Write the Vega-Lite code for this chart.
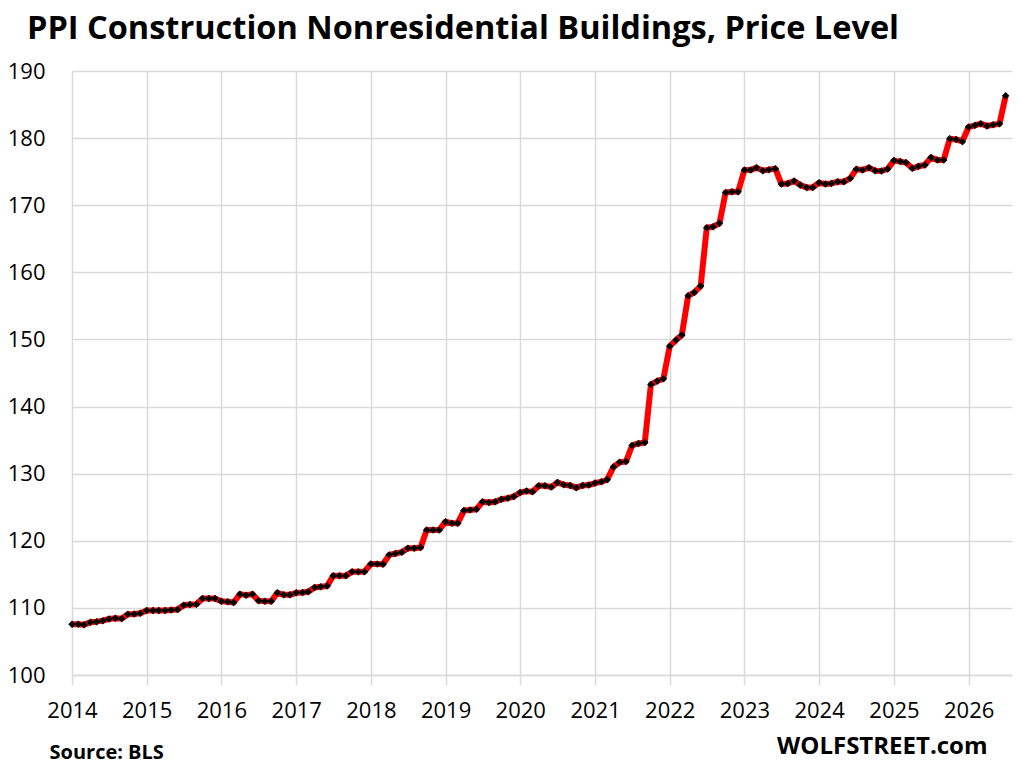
{
  "$schema": "https://vega.github.io/schema/vega-lite/v6.json",
  "width": 940,
  "height": 604,
  "autosize": {"type": "none"},
  "padding": {"left": 72, "top": 71, "right": 14, "bottom": 95},
  "background": "white",
  "title": {
    "text": "PPI Construction Nonresidential Buildings, Price Level",
    "anchor": "start",
    "frame": "group",
    "dx": -45,
    "offset": 15,
    "font": "Open Sans",
    "fontSize": 32.5,
    "fontWeight": "bold",
    "color": "#000000"
  },
  "data": {
    "values": [
      {"date": "2014-01-01", "ppi": 107.55}, {"date": "2014-02-01", "ppi": 107.55}, {"date": "2014-03-01", "ppi": 107.5},
      {"date": "2014-04-01", "ppi": 107.85}, {"date": "2014-05-01", "ppi": 107.95}, {"date": "2014-06-01", "ppi": 108.1},
      {"date": "2014-07-01", "ppi": 108.35}, {"date": "2014-08-01", "ppi": 108.45}, {"date": "2014-09-01", "ppi": 108.4},
      {"date": "2014-10-01", "ppi": 109.05}, {"date": "2014-11-01", "ppi": 109.1}, {"date": "2014-12-01", "ppi": 109.2},
      {"date": "2015-01-01", "ppi": 109.6}, {"date": "2015-02-01", "ppi": 109.6}, {"date": "2015-03-01", "ppi": 109.6},
      {"date": "2015-04-01", "ppi": 109.6}, {"date": "2015-05-01", "ppi": 109.7}, {"date": "2015-06-01", "ppi": 109.75},
      {"date": "2015-07-01", "ppi": 110.4}, {"date": "2015-08-01", "ppi": 110.5}, {"date": "2015-09-01", "ppi": 110.55},
      {"date": "2015-10-01", "ppi": 111.4}, {"date": "2015-11-01", "ppi": 111.4}, {"date": "2015-12-01", "ppi": 111.4},
      {"date": "2016-01-01", "ppi": 111.0}, {"date": "2016-02-01", "ppi": 110.9}, {"date": "2016-03-01", "ppi": 110.8},
      {"date": "2016-04-01", "ppi": 112.05}, {"date": "2016-05-01", "ppi": 111.9}, {"date": "2016-06-01", "ppi": 112.05},
      {"date": "2016-07-01", "ppi": 111.05}, {"date": "2016-08-01", "ppi": 111.0}, {"date": "2016-09-01", "ppi": 111.0},
      {"date": "2016-10-01", "ppi": 112.25}, {"date": "2016-11-01", "ppi": 111.95}, {"date": "2016-12-01", "ppi": 111.95},
      {"date": "2017-01-01", "ppi": 112.25}, {"date": "2017-02-01", "ppi": 112.3}, {"date": "2017-03-01", "ppi": 112.4},
      {"date": "2017-04-01", "ppi": 113.05}, {"date": "2017-05-01", "ppi": 113.15}, {"date": "2017-06-01", "ppi": 113.25},
      {"date": "2017-07-01", "ppi": 114.8}, {"date": "2017-08-01", "ppi": 114.8}, {"date": "2017-09-01", "ppi": 114.8},
      {"date": "2017-10-01", "ppi": 115.4}, {"date": "2017-11-01", "ppi": 115.4}, {"date": "2017-12-01", "ppi": 115.4},
      {"date": "2018-01-01", "ppi": 116.55}, {"date": "2018-02-01", "ppi": 116.55}, {"date": "2018-03-01", "ppi": 116.5},
      {"date": "2018-04-01", "ppi": 117.9}, {"date": "2018-05-01", "ppi": 118.1}, {"date": "2018-06-01", "ppi": 118.3},
      {"date": "2018-07-01", "ppi": 118.9}, {"date": "2018-08-01", "ppi": 118.9}, {"date": "2018-09-01", "ppi": 119.0},
      {"date": "2018-10-01", "ppi": 121.6}, {"date": "2018-11-01", "ppi": 121.6}, {"date": "2018-12-01", "ppi": 121.6},
      {"date": "2019-01-01", "ppi": 122.85}, {"date": "2019-02-01", "ppi": 122.6}, {"date": "2019-03-01", "ppi": 122.6},
      {"date": "2019-04-01", "ppi": 124.5}, {"date": "2019-05-01", "ppi": 124.6}, {"date": "2019-06-01", "ppi": 124.7},
      {"date": "2019-07-01", "ppi": 125.8}, {"date": "2019-08-01", "ppi": 125.7}, {"date": "2019-09-01", "ppi": 125.8},
      {"date": "2019-10-01", "ppi": 126.2}, {"date": "2019-11-01", "ppi": 126.35}, {"date": "2019-12-01", "ppi": 126.6},
      {"date": "2020-01-01", "ppi": 127.2}, {"date": "2020-02-01", "ppi": 127.4}, {"date": "2020-03-01", "ppi": 127.3},
      {"date": "2020-04-01", "ppi": 128.2}, {"date": "2020-05-01", "ppi": 128.2}, {"date": "2020-06-01", "ppi": 128.0},
      {"date": "2020-07-01", "ppi": 128.7}, {"date": "2020-08-01", "ppi": 128.35}, {"date": "2020-09-01", "ppi": 128.25},
      {"date": "2020-10-01", "ppi": 127.9}, {"date": "2020-11-01", "ppi": 128.25}, {"date": "2020-12-01", "ppi": 128.3},
      {"date": "2021-01-01", "ppi": 128.6}, {"date": "2021-02-01", "ppi": 128.8}, {"date": "2021-03-01", "ppi": 129.1},
      {"date": "2021-04-01", "ppi": 131.0}, {"date": "2021-05-01", "ppi": 131.7}, {"date": "2021-06-01", "ppi": 131.8},
      {"date": "2021-07-01", "ppi": 134.2}, {"date": "2021-08-01", "ppi": 134.5}, {"date": "2021-09-01", "ppi": 134.65},
      {"date": "2021-10-01", "ppi": 143.3}, {"date": "2021-11-01", "ppi": 143.8}, {"date": "2021-12-01", "ppi": 144.15},
      {"date": "2022-01-01", "ppi": 149.0}, {"date": "2022-02-01", "ppi": 149.9}, {"date": "2022-03-01", "ppi": 150.65},
      {"date": "2022-04-01", "ppi": 156.5}, {"date": "2022-05-01", "ppi": 157.0}, {"date": "2022-06-01", "ppi": 157.95},
      {"date": "2022-07-01", "ppi": 166.65}, {"date": "2022-08-01", "ppi": 166.8}, {"date": "2022-09-01", "ppi": 167.3},
      {"date": "2022-10-01", "ppi": 171.9}, {"date": "2022-11-01", "ppi": 172.0}, {"date": "2022-12-01", "ppi": 172.0},
      {"date": "2023-01-01", "ppi": 175.25}, {"date": "2023-02-01", "ppi": 175.25}, {"date": "2023-03-01", "ppi": 175.6},
      {"date": "2023-04-01", "ppi": 175.15}, {"date": "2023-05-01", "ppi": 175.3}, {"date": "2023-06-01", "ppi": 175.45},
      {"date": "2023-07-01", "ppi": 173.15}, {"date": "2023-08-01", "ppi": 173.25}, {"date": "2023-09-01", "ppi": 173.6},
      {"date": "2023-10-01", "ppi": 173.0}, {"date": "2023-11-01", "ppi": 172.65}, {"date": "2023-12-01", "ppi": 172.65},
      {"date": "2024-01-01", "ppi": 173.35}, {"date": "2024-02-01", "ppi": 173.15}, {"date": "2024-03-01", "ppi": 173.25},
      {"date": "2024-04-01", "ppi": 173.5}, {"date": "2024-05-01", "ppi": 173.5}, {"date": "2024-06-01", "ppi": 174.0},
      {"date": "2024-07-01", "ppi": 175.35}, {"date": "2024-08-01", "ppi": 175.25}, {"date": "2024-09-01", "ppi": 175.6},
      {"date": "2024-10-01", "ppi": 175.15}, {"date": "2024-11-01", "ppi": 175.1}, {"date": "2024-12-01", "ppi": 175.4},
      {"date": "2025-01-01", "ppi": 176.65}, {"date": "2025-02-01", "ppi": 176.5}, {"date": "2025-03-01", "ppi": 176.35},
      {"date": "2025-04-01", "ppi": 175.5}, {"date": "2025-05-01", "ppi": 175.8}, {"date": "2025-06-01", "ppi": 176.0},
      {"date": "2025-07-01", "ppi": 177.1}, {"date": "2025-08-01", "ppi": 176.75}, {"date": "2025-09-01", "ppi": 176.75},
      {"date": "2025-10-01", "ppi": 179.9}, {"date": "2025-11-01", "ppi": 179.8}, {"date": "2025-12-01", "ppi": 179.5},
      {"date": "2026-01-01", "ppi": 181.65}, {"date": "2026-02-01", "ppi": 181.9}, {"date": "2026-03-01", "ppi": 182.15},
      {"date": "2026-04-01", "ppi": 181.8}, {"date": "2026-05-01", "ppi": 182.0}, {"date": "2026-06-01", "ppi": 182.15},
      {"date": "2026-07-01", "ppi": 186.3}
    ]
  },
  "encoding": {
    "x": {
      "field": "date",
      "type": "temporal",
      "scale": {
        "type": "utc",
        "domain": [
          {"year": 2014, "month": 1, "date": 1, "utc": true},
          {"year": 2026, "month": 8, "date": 1, "utc": true}
        ]
      },
      "axis": {
        "format": "%Y",
        "tickCount": {"interval": "year", "step": 1},
        "title": "Source: BLS",
        "titleX": -23,
        "titleY": 83,
        "titleAlign": "left",
        "titleBaseline": "alphabetic",
        "titleFont": "Open Sans",
        "titleFontSize": 20,
        "titleFontWeight": "bold",
        "titleColor": "#000000",
        "labelFont": "Open Sans",
        "labelFontSize": 22,
        "labelColor": "#000000",
        "labelPadding": 15,
        "labelFlush": false,
        "tickSize": 10,
        "tickColor": "#d9d9d9",
        "tickWidth": 1.5,
        "domainColor": "#d9d9d9",
        "domainWidth": 1.5,
        "grid": true,
        "gridColor": "#d9d9d9",
        "gridWidth": 1.5
      }
    },
    "y": {
      "field": "ppi",
      "type": "quantitative",
      "scale": {"domain": [100, 190], "nice": false, "zero": false}
    }
  },
  "layer": [
    {
      "mark": {"type": "line", "color": "#ff0000", "strokeWidth": 6, "strokeJoin": "round"},
      "encoding": {
        "y": {
          "field": "ppi",
          "type": "quantitative",
          "axis": {
            "values": [100, 110, 120, 130, 140, 150, 160, 170, 180, 190],
            "title": null,
            "labelFont": "Open Sans",
            "labelFontSize": 22,
            "labelColor": "#000000",
            "labelPadding": 27,
            "ticks": false,
            "domain": false,
            "grid": true,
            "gridColor": "#d9d9d9",
            "gridWidth": 1.5
          }
        }
      }
    },
    {
      "mark": {"type": "point", "shape": "diamond", "filled": true, "color": "#000000", "size": 56, "opacity": 1},
      "encoding": {
        "y": {
          "field": "ppi",
          "type": "quantitative",
          "axis": {
            "orient": "right",
            "labels": false,
            "ticks": false,
            "domain": false,
            "grid": false,
            "title": "WOLFSTREET.com",
            "titleAngle": 0,
            "titleAlign": "right",
            "titleBaseline": "alphabetic",
            "titleX": -25,
            "titleY": 682,
            "titleFont": "Open Sans",
            "titleFontSize": 24,
            "titleFontWeight": "bold",
            "titleColor": "#000000"
          }
        }
      }
    }
  ],
  "resolve": {"axis": {"y": "independent"}},
  "config": {
    "view": {"stroke": null}
  }
}
